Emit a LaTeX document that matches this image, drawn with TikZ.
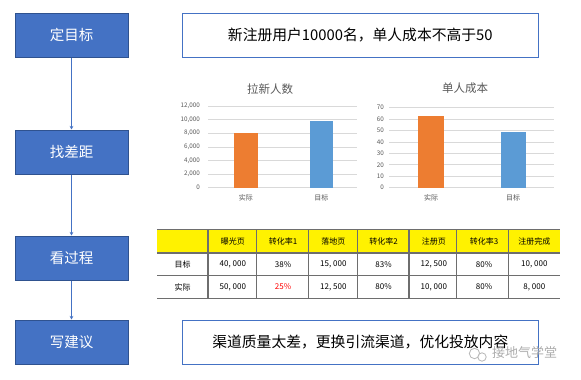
\documentclass[tikz,border=0pt]{standalone}
\usepackage{fontspec}
\setmainfont{Noto Sans CJK SC}
\usetikzlibrary{arrows.meta}
\definecolor{stepblue}{HTML}{4472C4}
\definecolor{stepedge}{HTML}{2F528F}
\definecolor{barorange}{HTML}{ED7D31}
\definecolor{barblue}{HTML}{5B9BD5}
\definecolor{axisgray}{HTML}{595959}
\definecolor{gridgray}{HTML}{D9D9D9}
\definecolor{tablegray}{HTML}{6E6E6E}
\tikzset{
  stepbox/.style={draw=stepedge, line width=1pt, fill=stepblue, minimum width=113pt, minimum height=44pt, inner sep=0pt, text=white, font=\fontsize{14.5}{16}\selectfont},
  textbox/.style={draw=stepblue, line width=1pt, fill=white, minimum width=356pt, minimum height=44pt, inner sep=0pt, font=\fontsize{14.8}{16}\selectfont},
  flow/.style={draw=stepblue, line width=0.9pt, -{Stealth[length=3.5pt,width=3.5pt]}},
  charttitle/.style={text=axisgray, font=\fontsize{11.5}{13}\selectfont},
  ticklab/.style={text=axisgray, font=\fontsize{6.3}{7}\selectfont, anchor=east, inner sep=0pt},
  catlab/.style={text=axisgray, font=\fontsize{7}{8}\selectfont, inner sep=0pt},
  grid line/.style={draw=gridgray, line width=0.8pt},
  cell/.style={font=\fontsize{8}{9}\selectfont, inner sep=0pt},
  tline/.style={draw=tablegray, line width=1.3pt},
  wmark/.style={text=black!32, font=\fontsize{13}{14}\selectfont, inner sep=0pt}
}
\begin{document}
\begin{tikzpicture}[x=1pt,y=-1pt]
\useasboundingbox (0,0) rectangle (581,380);
\fill[white] (0,0) rectangle (581,380);
% left flow
\node[stepbox] (s1) at (71.5,35.3) {定目标};
\node[stepbox] (s2) at (71.5,152) {找差距};
\node[stepbox] (s3) at (71.5,258) {看过程};
\node[stepbox] (s4) at (71.5,342) {写建议};
\draw[flow] (s1) -- (s2);
\draw[flow] (s2) -- (s3);
\draw[flow] (s3) -- (s4);
% text boxes
\node[textbox] (t1) at (360.3,35.3) {新注册用户10000名，单人成本不高于50};
\node[textbox] (t4) at (360.3,342.3) {渠道质量太差，更换引流渠道，优化投放内容};
% chart 1
\node[charttitle] (c1title) at (270,89) {拉新人数};
\foreach \i/\lab in {0/0,1/{2,000},2/{4,000},3/{6,000},4/{8,000},5/{10,000},6/{12,000}}{
  \draw[grid line] (208,187.7-\i*13.6) -- (357,187.7-\i*13.6);
  \node[ticklab] at (200,187.7-\i*13.6) {\lab};
}
\fill[barorange] (234,133.3) rectangle (257.7,187.7);
\fill[barblue] (310,121) rectangle (332.7,187.7);
\node[catlab] (c1a) at (245.8,198) {实际};
\node[catlab] (c1b) at (321.3,198) {目标};
% chart 2
\node[charttitle] (c2title) at (465,88) {单人成本};
\foreach \i in {0,1,...,7}{
  \pgfmathtruncatemacro{\v}{\i*10}
  \draw[grid line] (389.3,187.7-\i*11.43) -- (554.3,187.7-\i*11.43);
  \node[ticklab] at (384,187.7-\i*11.43) {\v};
}
\fill[barorange] (418.3,116) rectangle (444,187.7);
\fill[barblue] (500.7,131.5) rectangle (525.7,187.7);
\node[catlab] (c2a) at (431.2,198) {实际};
\node[catlab] (c2b) at (513.2,198) {目标};
% table
\fill[yellow] (157.3,229.3) rectangle (559.5,253);
\foreach \x in {208,256.2,308.3,357.4,409,456.3,508.3}{
  \draw[tline] (\x,229.3) -- (\x,298.7);
}
\foreach \y in {229.3,253,275.3,298.7}{
  \draw[tline] (157.3,\y) -- (559.5,\y);
}
\foreach \lab [count=\c from 1] in {曝光页,转化率1,落地页,转化率2,注册页,转化率3,注册完成}{
  \node[cell] at (182.6+\c*50.25,241.2) {\lab};
}
\node[cell] (r1) at (182.6,264.2) {目标};
\node[cell] (r2) at (182.6,287) {实际};
\foreach \lab [count=\c from 1] in {{40, 000},38\%,{15, 000},83\%,{12, 500},80\%,{10, 000}}{
  \node[cell] at (182.6+\c*50.25,264.2) {\lab};
}
\foreach \lab [count=\c from 1] in {{50, 000},{\textcolor{red}{25\%}},{12, 500},80\%,{10, 000},80\%,{8, 000}}{
  \node[cell] at (182.6+\c*50.25,287) {\lab};
}
% watermark
\draw[black!28, line width=0.8pt, fill=white, fill opacity=0.6] (474.5,353.5) circle (5.2);
\draw[black!28, line width=0.8pt, fill=white, fill opacity=0.6] (482,357) circle (4.2);
\node[wmark, anchor=west] (wm) at (492,353) {接地气学堂};
\end{tikzpicture}
\end{document}
